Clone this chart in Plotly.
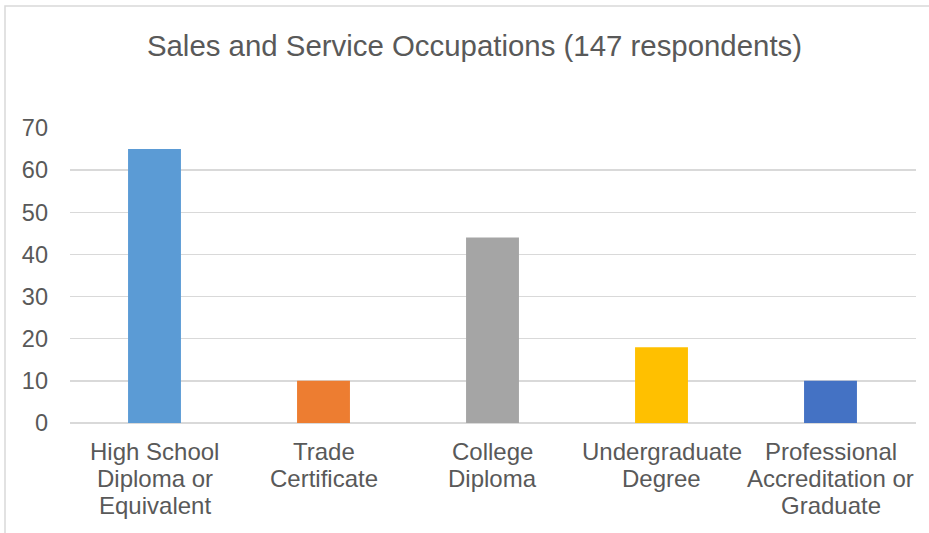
import plotly.graph_objects as go

categories = ["High School<br>Diploma or<br>Equivalent", "Trade<br>Certificate", "College<br>Diploma",
              "Undergraduate<br>Degree", "Professional<br>Accreditation or<br>Graduate"]
values = [65, 10, 44, 18, 10]
colors = ["#5B9BD5", "#ED7D31", "#A5A5A5", "#FFC000", "#4472C4"]
title = "Sales and Service Occupations (147 respondents)"

W, H = 929, 533
L, R, T, B = 70, 13, 128, 110
pw, ph = W - L - R, H - T - B

fig = go.Figure(go.Bar(x=categories, y=values, marker=dict(color=colors, line=dict(width=0)),
                       width=0.313, hoverinfo="skip"))

font = "Liberation Sans, Arial, sans-serif"
txt = "#595959"

# category labels: one annotation per line for tighter line spacing
annotations = []
for cat in categories:
    for i, line in enumerate(cat.split("<br>")):
        annotations.append(dict(x=cat, xref="x", y=0, yref="y", text=line, showarrow=False,
                                yanchor="middle", xanchor="center", yshift=-(28 + 27.3 * i),
                                font=dict(size=24, color=txt, family=font)))

fig.update_layout(
    width=W, height=H, margin=dict(l=L, r=R, t=T, b=B, autoexpand=False),
    paper_bgcolor="white", plot_bgcolor="white",
    font=dict(family=font, color=txt, size=24),
    title=dict(text=title, x=474.5 / W, xanchor="center", xref="container", y=1 - 46 / H, yanchor="middle",
               yref="container", font=dict(size=29.4, color=txt, family=font)),
    showlegend=False,
    xaxis=dict(showgrid=False, showline=False, ticks="", showticklabels=False, automargin=False),
    yaxis=dict(range=[0, 70], dtick=10, showgrid=True, gridcolor="#D9D9D9", gridwidth=1.5,
               zeroline=True, zerolinecolor="#D9D9D9", zerolinewidth=1.5, showline=False, ticks="",
               tickfont=dict(size=23.5), ticklabelstandoff=21, automargin=False),
    annotations=annotations,
    shapes=[dict(type="rect", xref="paper", yref="paper",
                 x0=(5 - L) / pw, x1=(W + 40 - L) / pw, y0=-(H + 40 - (T + ph)) / ph, y1=(T + ph - 6) / ph,
                 line=dict(color="#D9D9D9", width=1.5), fillcolor="rgba(0,0,0,0)", layer="below")],
)
fig.write_html("out.html", config={"displayModeBar": False, "staticPlot": True})

# remove the default page margin so the figure sits at the window origin
with open("out.html", encoding="utf-8") as f:
    html = f.read()
html = html.replace("<body>", '<body style="margin:0;overflow:hidden">', 1)
with open("out.html", "w", encoding="utf-8") as f:
    f.write(html)
